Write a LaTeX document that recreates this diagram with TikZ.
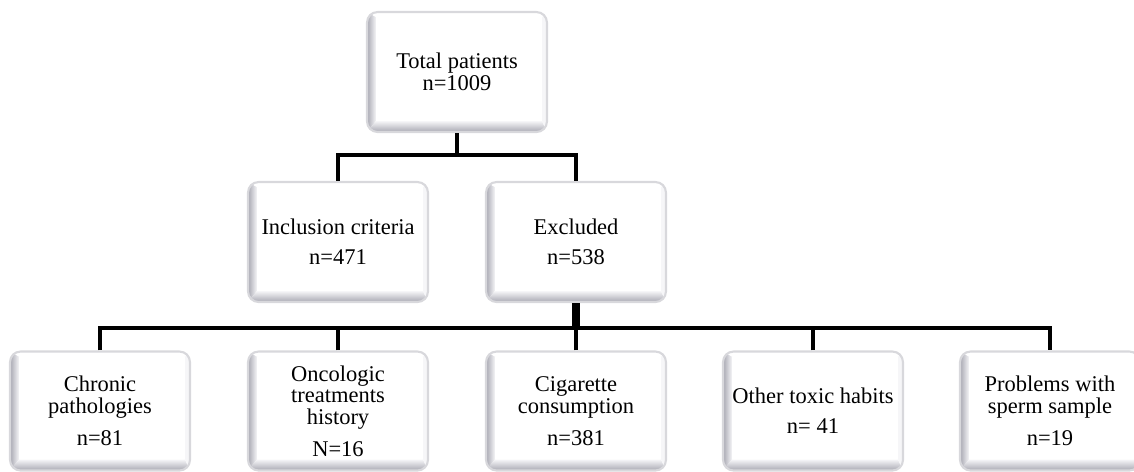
\documentclass[tikz,border=0pt]{standalone}
\usepackage{fontspec}
\setmainfont{Liberation Serif}
\usepackage{tikz}
\usetikzlibrary{positioning}
\definecolor{bevelgray}{RGB}{168,168,178}
\definecolor{rimgray}{RGB}{216,216,220}
\definecolor{facegray}{RGB}{246,246,248}

\begin{document}
\begin{tikzpicture}[x=0.02cm,y=-0.02cm,
    every node/.style={font=\fontsize{12.8}{12.2}\selectfont},
    bevelbox/.style={draw=rimgray,line width=1.2pt,rounded corners=6pt,
      minimum width=3.6cm,minimum height=2.38cm,align=center,inner sep=2pt,
      path picture={
        \path (path picture bounding box.south west) coordinate (bsw)
              (path picture bounding box.north west) coordinate (bnw)
              (path picture bounding box.north east) coordinate (bne)
              (path picture bounding box.south east) coordinate (bse)
              ([xshift=0.18cm,yshift=0.22cm]bsw) coordinate (isw)
              ([xshift=0.18cm,yshift=-0.1cm]bnw) coordinate (inw)
              ([xshift=-0.1cm,yshift=-0.1cm]bne) coordinate (ine)
              ([xshift=-0.1cm,yshift=0.22cm]bse) coordinate (ise);
        % bevel faces
        \shade[sharp corners,left color=bevelgray,right color=facegray]
          (bsw) -- (bnw) -- (inw) -- (isw) -- cycle;
        \shade[sharp corners,bottom color=bevelgray,top color=facegray]
          (bsw) -- (isw) -- (ise) -- (bse) -- cycle;
        \fill[sharp corners,facegray] (bse) -- (ise) -- (ine) -- (bne) -- cycle;
        \fill[sharp corners,white] (bnw) -- (bne) -- (ine) -- (inw) -- cycle;
        \fill[sharp corners,white] (isw) rectangle (ine);
      }},
    link/.style={line width=2.8pt}]
  \useasboundingbox (0,0) rectangle (1134,471);

  % top level
  \node[bevelbox,minimum height=2.4cm] (tot) at (457,72)
    {Total patients\\n=1009};

  % second level
  \node[bevelbox,minimum height=2.4cm] (incl) at (338,242)
    {Inclusion criteria\\[5pt]n=471};
  \node[bevelbox,minimum height=2.4cm] (excl) at (576,242)
    {Excluded\\[5pt]n=538};

  % exclusion reasons
  \node[bevelbox] (chron) at (100,411)
    {Chronic\\pathologies\\[6pt]n=81};
  \node[bevelbox] (onco) at (338,411)
    {Oncologic\\treatments\\history\\[6pt]N=16};
  \node[bevelbox] (cig) at (576,411)
    {Cigarette\\consumption\\[6pt]n=381};
  \node[bevelbox] (toxic) at (813,411)
    {Other toxic habits\\[5pt]n= 41};
  \node[bevelbox] (probl) at (1050,411)
    {Problems with\\sperm sample\\[6pt]n=19};

  % connectors
  \coordinate (j1) at (457,155);
  \coordinate (j2) at (576,328);
  \draw[link] (tot.south) -- (j1);
  \draw[link] (incl.north) |- (j1) -| (excl.north);
  \draw[link,line width=4.5pt] (excl.south) -- (j2);
  \draw[link] (chron.north) |- (j2) -| (probl.north);
  \foreach \b in {onco,cig,toxic}
    \draw[link] (\b.north) -- (\b.north |- j2);
\end{tikzpicture}
\end{document}
